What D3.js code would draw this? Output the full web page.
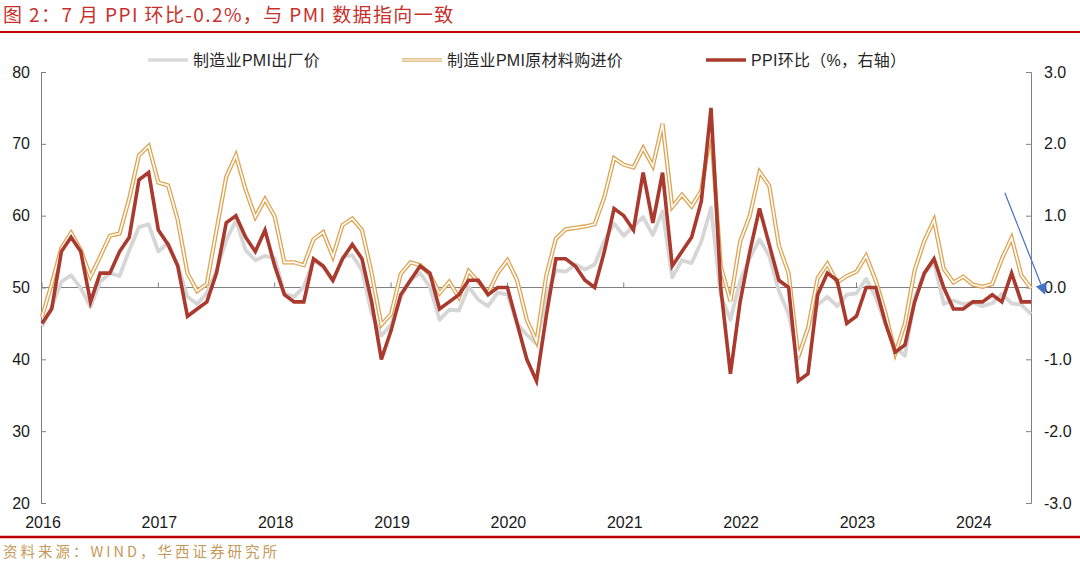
<!DOCTYPE html>
<html>
<head>
<meta charset="utf-8">
<script src="https://cdn.jsdelivr.net/npm/d3@7"></script>
<style>
  html, body { margin: 0; padding: 0; background: #fff; }
  svg { display: block; }
</style>
</head>
<body>
<svg id="chart" width="1080" height="566"></svg>
<script>
// ---------------- DATA ----------------
const years = [2016, 2017, 2018, 2019, 2020, 2021, 2022, 2023, 2024];
const monthsInLastYear = 7;

// 制造业PMI出厂价格
const pmiOutput = [
  44.6, 47.3, 50.8, 51.7, 49.9, 47.3, 50.8, 52.0, 51.6, 55.2, 58.4, 58.8,
  55.0, 56.2, 53.1, 48.7, 47.7, 49.2, 52.4, 56.6, 59.3, 55.2, 53.8, 54.4,
  54.1, 49.2, 48.7, 50.1, 53.8, 52.9, 50.8, 54.3, 54.5, 52.4, 46.4, 43.3,
  44.8, 48.7, 51.0, 52.0, 50.1, 45.5, 46.9, 46.8, 50.1, 48.3, 47.4, 49.3,
  49.0, 45.0, 43.4, 42.2, 48.7, 52.4, 52.2, 53.2, 52.5, 53.2, 56.5, 58.9,
  57.2, 58.5, 59.8, 57.3, 60.6, 51.4, 53.8, 53.4, 56.4, 61.1, 48.9, 45.5,
  50.9, 54.1, 56.7, 54.4, 49.5, 46.3, 40.1, 44.5, 47.6, 48.7, 47.4, 49.0,
  49.2, 51.2, 48.6, 44.9, 41.6, 40.5, 48.6, 52.0, 53.5, 47.7, 48.2, 47.7,
  47.9, 47.4, 47.8, 49.1, 47.8, 47.6, 46.3
];

// 制造业PMI原材料购进价格
const pmiInput = [
  45.9, 50.5, 55.5, 57.6, 55.2, 51.5, 54.3, 57.2, 57.5, 62.4, 68.4, 69.7,
  64.6, 64.2, 59.4, 52.0, 49.5, 50.5, 58.0, 65.4, 68.4, 63.6, 59.8, 62.3,
  59.9, 53.5, 53.5, 53.1, 56.7, 57.7, 54.3, 58.7, 59.6, 58.0, 52.0, 44.8,
  46.3, 51.9, 53.5, 53.1, 51.8, 49.2, 50.8, 48.6, 52.3, 50.8, 49.2, 52.0,
  53.8, 51.0, 45.5, 42.5, 51.6, 56.8, 58.1, 58.3, 58.5, 58.8, 62.6, 68.0,
  67.1, 66.7, 69.4, 66.9, 72.8, 61.2, 62.9, 61.3, 63.5, 72.1, 53.0, 48.1,
  56.4, 60.0, 66.1, 64.2, 55.8, 52.0, 40.4, 44.3, 51.3, 53.3, 50.7, 51.6,
  52.2, 54.4, 50.9, 46.4, 40.8, 45.0, 52.4, 56.5, 59.4, 52.6, 50.7, 51.5,
  50.4, 50.1, 50.5, 54.0, 56.9, 51.7, 49.9
];

// PPI环比（%，右轴）
const ppiMoM = [
  -0.5, -0.3, 0.5, 0.7, 0.5, -0.2, 0.2, 0.2, 0.5, 0.7, 1.5, 1.6,
  0.8, 0.6, 0.3, -0.4, -0.3, -0.2, 0.2, 0.9, 1.0, 0.7, 0.5, 0.8,
  0.3, -0.1, -0.2, -0.2, 0.4, 0.3, 0.1, 0.4, 0.6, 0.4, -0.2, -1.0,
  -0.6, -0.1, 0.1, 0.3, 0.2, -0.3, -0.2, -0.1, 0.1, 0.1, -0.1, 0.0,
  0.0, -0.5, -1.0, -1.3, -0.4, 0.4, 0.4, 0.3, 0.1, 0.0, 0.5, 1.1,
  1.0, 0.8, 1.6, 0.9, 1.6, 0.3, 0.5, 0.7, 1.2, 2.5, 0.0, -1.2,
  -0.2, 0.5, 1.1, 0.6, 0.1, 0.0, -1.3, -1.2, -0.1, 0.2, 0.1, -0.5,
  -0.4, 0.0, 0.0, -0.5, -0.9, -0.8, -0.2, 0.2, 0.4, 0.0, -0.3, -0.3,
  -0.2, -0.2, -0.1, -0.2, 0.2, -0.2, -0.2
];

const leftTicks = [20, 30, 40, 50, 60, 70, 80];
const rightTicks = [-3, -2, -1, 0, 1, 2, 3];

const seriesNames = ["制造业PMI出厂价", "制造业PMI原材料购进价", "PPI环比（%，右轴）"];
const titleText = "图 2：7 月 PPI 环比-0.2%，与 PMI 数据指向一致";
const sourceText = "资料来源：WIND，华西证券研究所";

// annotation arrow (month index, right-axis value)
const arrowFrom = [99.3, 1.32];
const arrowTo = [103.45, -0.10];

// ---------------- BUILD ----------------
const months = [];
years.forEach((yr, k) => {
  const n = (k === years.length - 1) ? monthsInLastYear : 12;
  for (let m = 1; m <= n; m++) months.push(yr + "-" + String(m).padStart(2, "0"));
});

const svg = d3.select("#chart");
const fontCJK = "'Liberation Sans', 'Noto Sans CJK SC', sans-serif";

const xi = d3.scaleLinear().domain([0, months.length - 1]).range([42, 1031]);
const yL = d3.scaleLinear().domain([20, 80]).range([503, 72]);
const yR = d3.scaleLinear().domain([-3, 3]).range([503, 72]);

// Title
svg.append("text")
  .attr("x", 3).attr("y", 22)
  .attr("font-family", "'Noto Sans CJK SC', sans-serif")
  .attr("font-size", 19)
  .attr("letter-spacing", 1.4)
  .attr("fill", "#C8302C")
  .text(titleText);
svg.append("line")
  .attr("x1", 0).attr("x2", 1080).attr("y1", 32).attr("y2", 32)
  .attr("stroke", "#C00000").attr("stroke-width", 2);

// Bottom rule & source
svg.append("line")
  .attr("x1", 0).attr("x2", 1080).attr("y1", 537).attr("y2", 537)
  .attr("stroke", "#C00000").attr("stroke-width", 2.5);
svg.append("text")
  .attr("x", 3).attr("y", 557)
  .attr("font-family", "'Noto Sans CJK SC', sans-serif")
  .attr("font-size", 14.5)
  .attr("letter-spacing", 3)
  .attr("fill", "#C49A5A")
  .text(sourceText);

// Left axis
const gL = svg.append("g").attr("transform", "translate(41,0)")
  .call(d3.axisLeft(yL).tickValues(leftTicks).tickSize(-5).tickPadding(11).tickFormat(d => d));
// Right axis
const gR = svg.append("g").attr("transform", "translate(1031,0)")
  .call(d3.axisRight(yR).tickValues(rightTicks).tickSize(-5).tickPadding(13).tickFormat(d => d.toFixed(1)));
[gL, gR].forEach(g => {
  g.select(".domain").attr("stroke", "#808080").attr("stroke-width", 1);
  g.selectAll(".tick line").attr("stroke", "#808080");
  g.selectAll(".tick text").attr("font-family", "'Liberation Sans', Arial, sans-serif")
    .attr("font-size", 16).attr("fill", "#1a1a1a");
});

// X axis (at PMI 50 / PPI 0)
const yBase = yL(50);
svg.append("line")
  .attr("x1", 41).attr("x2", 1031).attr("y1", yBase).attr("y2", yBase)
  .attr("stroke", "#808080").attr("stroke-width", 1);
const janIdx = years.map((yr, k) => k * 12);
svg.append("g").selectAll("line").data(janIdx).join("line")
  .attr("x1", d => xi(d)).attr("x2", d => xi(d))
  .attr("y1", yBase).attr("y2", yBase - 5)
  .attr("stroke", "#808080").attr("stroke-width", 1);
svg.append("g").selectAll("text").data(years).join("text")
  .attr("x", (d, k) => xi(janIdx[k]) + 1)
  .attr("y", 528)
  .attr("text-anchor", "middle")
  .attr("font-family", "'Liberation Sans', Arial, sans-serif")
  .attr("font-size", 16).attr("fill", "#1a1a1a")
  .text(d => d);

// Lines
const lineL = d3.line().x((d, i) => xi(i)).y(d => yL(d));
const lineR = d3.line().x((d, i) => xi(i)).y(d => yR(d));

svg.append("path").attr("d", lineL(pmiOutput))
  .attr("fill", "none").attr("stroke", "#D6D6D6").attr("stroke-width", 3.8)
  .attr("stroke-linejoin", "round");
svg.append("path").attr("d", lineL(pmiInput))
  .attr("fill", "none").attr("stroke", "#DEA452").attr("stroke-width", 4.2)
  .attr("stroke-linejoin", "miter");
svg.append("path").attr("d", lineL(pmiInput))
  .attr("fill", "none").attr("stroke", "#ffffff").attr("stroke-width", 1.6)
  .attr("stroke-linejoin", "miter");
svg.append("path").attr("d", lineR(ppiMoM))
  .attr("fill", "none").attr("stroke", "#A93A2D").attr("stroke-width", 3.6)
  .attr("stroke-linejoin", "miter");

// Legend
const legY = 60;
const legItems = [
  { x: 148, name: seriesNames[0], type: "gray" },
  { x: 402, name: seriesNames[1], type: "gold" },
  { x: 706, name: seriesNames[2], type: "red" }
];
legItems.forEach(it => {
  if (it.type === "gray") {
    svg.append("line").attr("x1", it.x).attr("x2", it.x + 40).attr("y1", legY).attr("y2", legY)
      .attr("stroke", "#D9D9D9").attr("stroke-width", 3.6);
  } else if (it.type === "gold") {
    svg.append("line").attr("x1", it.x).attr("x2", it.x + 40).attr("y1", legY).attr("y2", legY)
      .attr("stroke", "#E3C490").attr("stroke-width", 4.2);
    svg.append("line").attr("x1", it.x).attr("x2", it.x + 40).attr("y1", legY).attr("y2", legY)
      .attr("stroke", "#F3E6CC").attr("stroke-width", 1.6);
  } else {
    svg.append("line").attr("x1", it.x).attr("x2", it.x + 40).attr("y1", legY).attr("y2", legY)
      .attr("stroke", "#A93A2D").attr("stroke-width", 3.6);
  }
  svg.append("text").attr("x", it.x + 45).attr("y", legY)
    .attr("dominant-baseline", "central")
    .attr("font-family", fontCJK).attr("font-size", 16).attr("fill", "#262626")
    .attr("letter-spacing", 0.3)
    .text(it.name);
});

// Annotation arrow
const ax0 = xi(arrowFrom[0]), ay0 = yR(arrowFrom[1]);
const ax1 = xi(arrowTo[0]), ay1 = yR(arrowTo[1]);
const ang = Math.atan2(ay1 - ay0, ax1 - ax0);
const headLen = 11, headW = 5.5;
const bx = ax1 - headLen * Math.cos(ang), by = ay1 - headLen * Math.sin(ang);
svg.append("line").attr("x1", ax0).attr("y1", ay0).attr("x2", bx).attr("y2", by)
  .attr("stroke", "#4472C4").attr("stroke-width", 1.2);
svg.append("path")
  .attr("d", `M${ax1},${ay1} L${bx + headW * Math.sin(ang)},${by - headW * Math.cos(ang)} L${bx - headW * Math.sin(ang)},${by + headW * Math.cos(ang)} Z`)
  .attr("fill", "#4472C4");
</script>
</body>
</html>
